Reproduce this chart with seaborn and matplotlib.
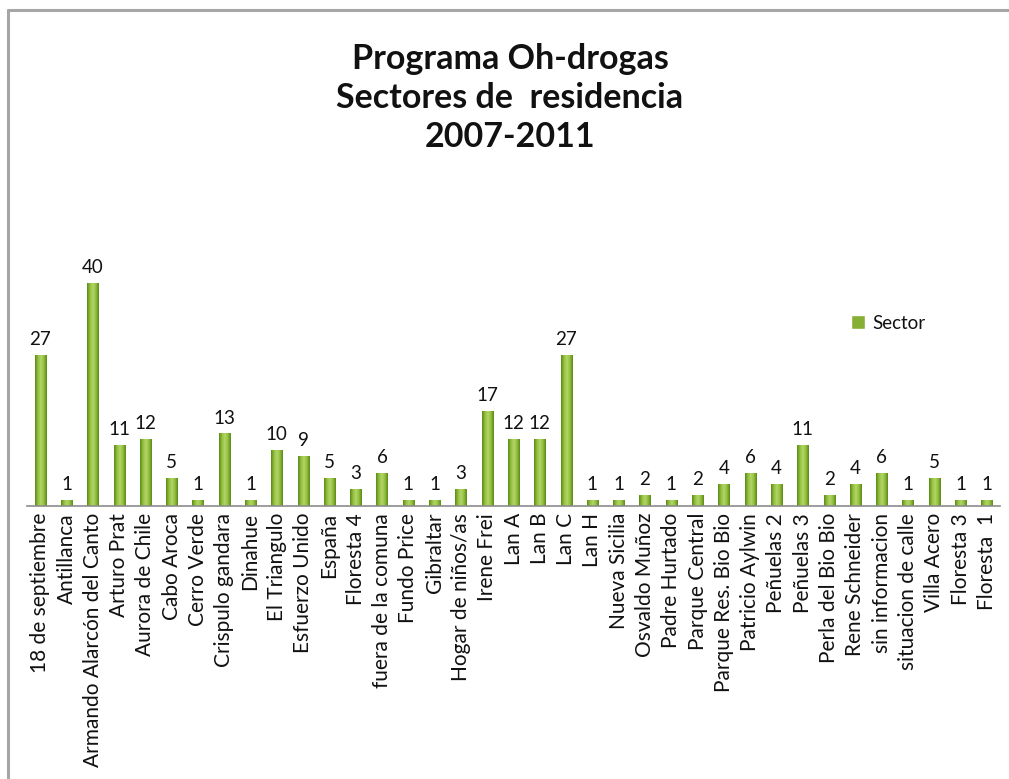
import numpy as np
import pandas as pd
import matplotlib
matplotlib.use("Agg")
import matplotlib.pyplot as plt
from matplotlib.colors import LinearSegmentedColormap
from matplotlib.lines import Line2D
import seaborn as sns

sectores = [
    "18 de septiembre", "Antillanca", "Armando Alarcón del Canto", "Arturo Prat",
    "Aurora de Chile", "Cabo Aroca", "Cerro Verde", "Crispulo gandara", "Dinahue",
    "El Triangulo", "Esfuerzo Unido", "España", "Floresta 4", "fuera de la comuna",
    "Fundo Price", "Gibraltar", "Hogar de niños/as", "Irene Frei", "Lan A", "Lan B",
    "Lan C", "Lan H", "Nueva Sicilia", "Osvaldo Muñoz", "Padre Hurtado",
    "Parque Central", "Parque Res. Bio Bio", "Patricio Aylwin", "Peñuelas 2",
    "Peñuelas 3", "Perla del Bio Bio", "Rene Schneider", "sin informacion",
    "situacion de calle", "Villa Acero", "Floresta 3", "Floresta  1",
]
casos = [
    27, 1, 40, 11, 12, 5, 1, 13, 1, 10, 9, 5, 3, 6, 1, 1, 3, 17, 12, 12,
    27, 1, 1, 2, 1, 2, 4, 6, 4, 11, 2, 4, 6, 1, 5, 1, 1,
]
serie = "Sector"
titulo = "Programa Oh-drogas\nSectores de  residencia\n2007-2011"

sns.set_theme(style="white")
plt.rcParams["font.family"] = ["Lato", "DejaVu Sans"]

df = pd.DataFrame({"sector": sectores, "casos": casos, "serie": serie})

W, H = 1009, 779
fig = plt.figure(figsize=(W / 100, H / 100), dpi=100)
ax = fig.add_axes([27 / W, 1 - 506 / H, 973 / W, 251 / H])

green = "#86b034"
sns.barplot(data=df, x="sector", y="casos", hue="serie", palette=[green],
            width=0.42, ax=ax, saturation=1, legend=True)

# horizontal shading across each bar: darker edges, lighter centre
shade = LinearSegmentedColormap.from_list(
    "shade", ["#5a8a18", "#92bf3c", "#b4d66a", "#92bf3c", "#5a8a18"])
grad = np.linspace(0, 1, 64).reshape(1, -1)
for container in ax.containers:
    for bar in container:
        x0, y0 = bar.get_x(), bar.get_y()
        w, h = bar.get_width(), bar.get_height()
        im = ax.imshow(grad, cmap=shade, aspect="auto",
                       extent=(x0, x0 + w, y0, y0 + h), zorder=bar.get_zorder() + 0.1)
        im.set_clip_path(bar)
    ax.bar_label(container, labels=[str(v) for v in casos], padding=5,
                 fontsize=13.5, color="#111111")

ax.set_xlim(-0.5, len(sectores) - 0.5)
ax.set_ylim(0, 45)
ax.set_xlabel("")
ax.set_ylabel("")
ax.set_yticks([])
ax.tick_params(axis="x", length=0, pad=5)
ax.set_xticks(range(len(sectores)))
ax.set_xticklabels(sectores, rotation=90, fontsize=15, color="#111111")
for s in ["top", "right", "left"]:
    ax.spines[s].set_visible(False)
ax.spines["bottom"].set_color("#8c8c8c")
ax.spines["bottom"].set_linewidth(1.2)
ax.patch.set_alpha(0)

leg = ax.legend(loc="center left", bbox_to_anchor=(0.83, 0.729), frameon=False,
                handlelength=0.7, handleheight=0.7, handletextpad=0.4,
                fontsize=13.5)
for t in leg.get_texts():
    t.set_color("#111111")

fig.text(510 / W, 1 - 98 / H, titulo, ha="center", va="center", fontsize=24.5,
         fontweight="bold", linespacing=1.27, color="#111111")

# chart frame
fig.add_artist(Line2D([7.5 / W, 1.0], [1 - 10 / H, 1 - 10 / H], color="#a6a6a6", lw=2.2))
fig.add_artist(Line2D([7.5 / W, 7.5 / W], [0.0, 1 - 10 / H], color="#a6a6a6", lw=2.2))

fig.savefig("out.png", dpi=100, facecolor="white")
